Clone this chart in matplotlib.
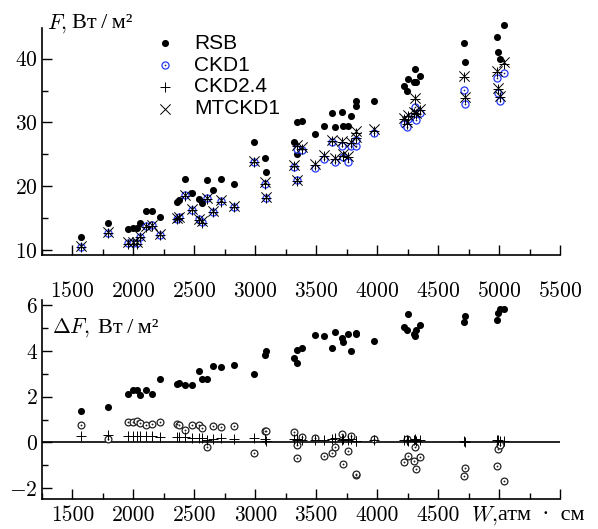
import matplotlib
matplotlib.use('Agg')
import matplotlib.pyplot as plt
from matplotlib.ticker import MultipleLocator, FuncFormatter

# water vapour path, atm*cm
W = [1574, 1791, 1952, 1999, 2032, 2057, 2104, 2155, 2221,
     2355, 2372, 2427, 2482, 2536, 2564, 2602, 2657, 2720, 2824,
     2989, 3077, 3090, 3317, 3342, 3342, 3383,
     3493, 3567, 3633, 3658, 3715, 3718, 3762, 3784, 3825, 3830, 3975,
     4220, 4242, 4253, 4302, 4313, 4318, 4351,
     4711, 4719, 4987, 4995, 5009, 5042]

# fluxes, W/m2
F_rsb = [12.0, 14.3, 13.3, 13.5, 13.5, 14.3, 16.1, 16.1, 15.2,
         17.6, 17.8, 21.2, 18.9, 18.0, 17.3, 21.0, 19.4, 21.1, 20.3,
         27.0, 24.4, 22.3, 27.0, 25.0, 30.0, 30.2,
         28.2, 29.5, 31.4, 29.3, 31.6, 29.4, 29.5, 31.0, 32.5, 33.3, 33.3,
         35.7, 34.9, 36.8, 36.4, 38.4, 36.4, 37.2,
         42.5, 39.5, 43.4, 41.1, 40.0, 45.2]
F_ckd1 = [10.5, 12.7, 11.1, 11.1, 11.1, 12.1, 13.7, 13.9, 12.4,
          14.9, 15.1, 18.6, 16.3, 14.8, 14.4, 18.1, 16.0, 17.7, 16.8,
          23.8, 20.4, 18.2, 23.0, 20.9, 25.8, 25.7,
          22.9, 24.3, 27.0, 23.8, 26.3, 24.6, 23.8, 26.3, 26.3, 27.2, 28.3,
          29.8, 29.3, 30.5, 30.9, 32.4, 30.4, 31.4,
          35.1, 32.9, 36.9, 34.6, 33.4, 37.7]
F_ckd24 = [10.4, 12.6, 11.0, 11.0, 11.0, 12.0, 13.6, 13.8, 12.3,
           14.8, 15.0, 18.5, 16.2, 14.7, 14.3, 18.0, 15.9, 17.6, 16.7,
           23.8, 20.4, 18.1, 23.1, 20.8, 26.3, 25.9,
           23.3, 24.7, 27.1, 24.3, 26.9, 24.8, 24.6, 26.8, 27.5, 28.4, 28.7,
           30.5, 29.8, 31.0, 31.5, 33.6, 31.3, 31.9,
           37.1, 33.8, 37.9, 35.2, 34.0, 39.2]
F_mtckd1 = [10.6, 12.8, 11.2, 11.2, 11.2, 12.2, 13.8, 14.0, 12.5,
            15.0, 15.2, 18.7, 16.4, 14.9, 14.5, 18.2, 16.1, 17.8, 16.9,
            24.0, 20.6, 18.3, 23.3, 21.0, 26.5, 26.1,
            23.5, 24.9, 27.3, 24.5, 27.1, 25.0, 24.8, 27.0, 27.7, 28.6, 28.9,
            30.7, 30.0, 31.2, 31.7, 33.8, 31.5, 32.1,
            37.3, 34.0, 38.1, 35.4, 34.2, 39.4]

# differences, W/m2
dF_rsb = [1.37, 1.55, 2.11, 2.28, 2.28, 2.07, 2.31, 2.11, 2.75,
          2.56, 2.60, 2.53, 2.50, 3.14, 2.78, 2.78, 3.33, 3.30, 3.40,
          3.01, 3.84, 3.99, 3.68, 4.03, 3.48, 4.12,
          4.67, 4.63, 4.12, 4.82, 4.55, 4.40, 4.74, 3.99, 4.80, 4.72, 4.44,
          5.02, 4.89, 5.60, 4.72, 4.64, 4.90, 5.14,
          5.24, 5.52, 5.34, 5.66, 5.82, 5.82]
dF_ckd1 = [0.77, 0.14, 0.90, 0.89, 0.94, 0.83, 0.77, 0.80, 0.90,
           0.80, 0.74, 0.54, 0.77, 0.74, 0.62, -0.19, 0.73, 0.66, 0.73,
           -0.44, 0.51, 0.51, 0.44, -0.12, -0.70, 0.23,
           0.20, -0.58, -0.45, -0.19, 0.39, -0.93, -0.39, 0.28, -1.43, -1.40, 0.13,
           -0.86, 0.13, -0.60, -0.80, -0.19, -1.15, -0.64,
           -1.47, -1.10, -1.02, -0.28, -0.12, -1.69]
dF_ckd24 = [0.27, 0.33, 0.27, 0.27, 0.26, 0.27, 0.26, 0.26, 0.24,
            0.25, 0.25, 0.22, 0.21, 0.20, 0.18, 0.12, 0.15, 0.20, 0.17,
            0.20, 0.15, 0.08, 0.17, 0.15, 0.12, 0.12,
            0.10, 0.12, 0.15, 0.18, 0.12, 0.15, 0.10, 0.15, 0.05, 0.08, 0.12,
            0.12, 0.10, 0.08, 0.10, 0.15, 0.08, 0.12,
            0.05, 0.02, 0.12, 0.10, 0.08, 0.05]

plt.rcParams['font.family'] = ['cmr10', 'Liberation Serif', 'DejaVu Serif']
plt.rcParams['mathtext.fontset'] = 'cm'
plt.rcParams['axes.formatter.use_mathtext'] = True

fig = plt.figure(figsize=(5.98, 5.29), dpi=100)
ax1 = fig.add_axes([42 / 598, 1 - 255 / 529, 518 / 598, 227 / 529])
ax2 = fig.add_axes([42 / 598, 1 - 499 / 529, 518 / 598, 199 / 529])

blue = '#2438ff'

# top panel
h_rsb = ax1.scatter(W, F_rsb, s=26, c='black', lw=0, zorder=3, clip_on=False)
h_ring = ax1.scatter(W, F_ckd1, s=26, facecolors='white', edgecolors=blue, linewidths=0.9, zorder=4)
h_dot = ax1.scatter(W, F_ckd1, s=1.5, c='#202060', lw=0, zorder=5)
h_plus = ax1.scatter(W, F_ckd24, s=55, marker='+', c='black', linewidths=0.7, zorder=6)
h_x = ax1.scatter(W, F_mtckd1, s=55, marker='x', c='black', linewidths=0.7, zorder=6)

ax1.legend([h_rsb, (h_ring, h_dot), h_plus, h_x], ['RSB', 'CKD1', 'CKD2.4', 'MTCKD1'],
           loc='upper left', bbox_to_anchor=(0.197, 1.02), frameon=False,
           prop={'family': 'Liberation Sans', 'size': 15}, borderpad=0,
           handlelength=1.0, handletextpad=0.9, labelspacing=0.13, scatterpoints=1)

ax1.set_xlim(1250, 5500)
ax1.set_ylim(9.22, 44.8)
ax1.yaxis.set_major_locator(MultipleLocator(10))
ax1.yaxis.set_minor_locator(MultipleLocator(5))

# bottom panel
ax2.axhline(0, color='black', lw=1.2, zorder=1)
ax2.scatter(W, dF_rsb, s=26, c='black', lw=0, zorder=3)
ax2.scatter(W, dF_ckd1, s=24, facecolors='white', edgecolors='#222222', linewidths=0.9, zorder=4)
ax2.scatter(W, dF_ckd1, s=1.8, c='#222222', lw=0, zorder=5)
ax2.scatter(W, dF_ckd24, s=50, marker='+', c='black', linewidths=0.7, zorder=6)

ax2.set_xlim(1250, 5500)
ax2.set_ylim(-2.47, 6.22)
ax2.yaxis.set_major_locator(MultipleLocator(2))
ax2.yaxis.set_minor_locator(MultipleLocator(1))
ax2.xaxis.set_major_formatter(FuncFormatter(lambda v, p: '' if v > 4600 else '%d' % v))

for ax in (ax1, ax2):
    ax.xaxis.set_major_locator(MultipleLocator(500))
    ax.xaxis.set_minor_locator(MultipleLocator(250))
    ax.spines['top'].set_visible(False)
    ax.spines['right'].set_visible(False)
    for s in ('left', 'bottom'):
        ax.spines[s].set_linewidth(1.2)
    ax.tick_params(which='both', direction='in', top=False, right=False, width=1.0, labelsize=15.5)
    ax.tick_params(which='major', length=7)
    ax.tick_params(which='minor', length=4)
    ax.tick_params(axis='y', pad=3)

ax1.tick_params(axis='x', pad=19)
ax2.tick_params(axis='x', pad=5)

# axis captions
unit_font = ['Liberation Serif', 'DejaVu Serif']
fig.text(47 / 598, 1 - 28.5 / 529, r'$F,$', fontsize=15.5, va='baseline')
fig.text(72 / 598, 1 - 28.5 / 529, 'Вт\u2009/\u2009м²', fontsize=16, va='baseline', family=unit_font)
fig.text(52 / 598, 1 - 333 / 529, r'$\Delta F,$', fontsize=15.5, va='baseline')
fig.text(98 / 598, 1 - 333 / 529, 'Вт\u2009/\u2009м²', fontsize=16, va='baseline', family=unit_font)
fig.text(471 / 598, 1 - 520.5 / 529, r'$W,$', fontsize=15.5, va='baseline')
fig.text(498 / 598, 1 - 520.5 / 529, 'атм\u2002·\u2002см', fontsize=16, va='baseline', family=unit_font)

fig.savefig('out.png', dpi=100)
